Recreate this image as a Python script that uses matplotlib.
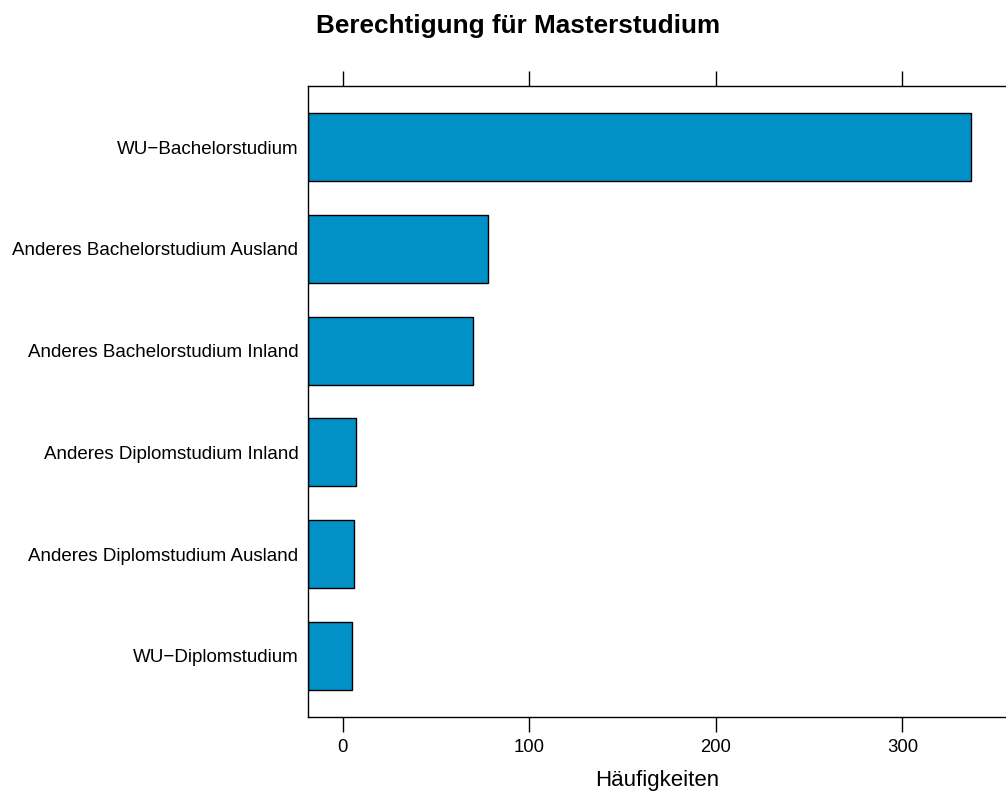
import matplotlib
matplotlib.use('Agg')
import matplotlib.pyplot as plt

plt.rcParams['font.family'] = ['Liberation Sans', 'DejaVu Sans']

# categories from bottom to top, as in the lattice chart
categories = ['WU\u2212Diplomstudium',
              'Anderes Diplomstudium Ausland',
              'Anderes Diplomstudium Inland',
              'Anderes Bachelorstudium Inland',
              'Anderes Bachelorstudium Ausland',
              'WU\u2212Bachelorstudium']
counts = [5, 6, 7, 70, 78, 337]
xticks = [0, 100, 200, 300]

x_min, x_max = -18.5, 355.5
bar_color = '#0291C7'

fig = plt.figure(figsize=(10.06, 7.96), dpi=100)
ax = fig.add_axes([308 / 1006, 1 - 717 / 796, 1 - 308 / 1006, (717 - 86) / 796])

ypos = list(range(1, len(categories) + 1))
# lattice draws bars from the left panel limit
widths = [c - x_min for c in counts]
ax.barh(ypos, widths, left=x_min, height=2 / 3, color=bar_color,
        edgecolor='black', linewidth=1.0)

ax.set_xlim(x_min, x_max)
ax.set_ylim(0.4, len(categories) + 0.6)
ax.set_yticks(ypos)
ax.set_yticklabels(categories, fontsize=13.5)
ax.set_xticks(xticks)
ax.set_xticklabels([str(t) for t in xticks], fontsize=13.3)
ax.tick_params(axis='y', length=0, pad=7)
ax.tick_params(axis='x', top=True, direction='out', length=11, width=1.0,
               pad=5)
ax.spines['right'].set_visible(False)
for s in ['left', 'top', 'bottom']:
    ax.spines[s].set_linewidth(1.0)

ax.set_xlabel('Häufigkeiten', fontsize=16, labelpad=10)
fig.text(518 / 1006, 1 - 26 / 796, 'Berechtigung für Masterstudium',
         ha='center', va='center', fontsize=18.8, fontweight='bold')

fig.savefig('out.png', dpi=100)
